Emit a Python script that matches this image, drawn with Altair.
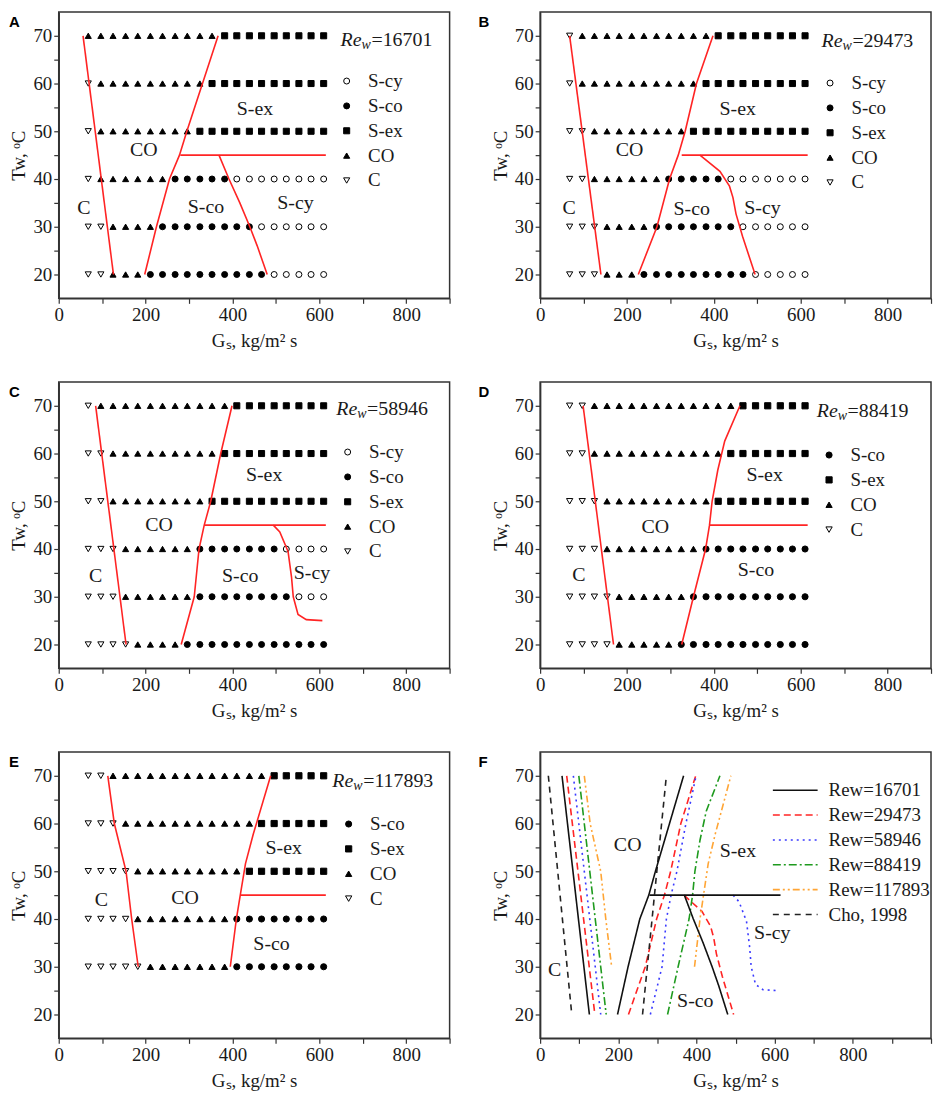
import altair as alt
import pandas as pd

SERIF = "Liberation Serif"
SANS = "Liberation Sans"
INK = "#1a1a1a"
RED = "#ff2424"

# ---------------- data ----------------
G_GRID = [68, 97, 125, 154, 182, 211, 239, 268, 296, 325, 353, 382, 410, 439, 467, 496, 524, 553, 581, 610]

# regime run-lengths along each row (from low Gs to high Gs)
A_RUNS = {
    70: [("CO", 11), ("S-ex", 9)],
    60: [("C", 1), ("CO", 9), ("S-ex", 10)],
    50: [("C", 1), ("CO", 8), ("S-ex", 11)],
    40: [("C", 1), ("CO", 6), ("S-co", 5), ("S-cy", 8)],
    30: [("C", 2), ("CO", 4), ("S-co", 8), ("S-cy", 6)],
    20: [("C", 2), ("CO", 3), ("S-co", 10), ("S-cy", 5)],
}
B_RUNS = {
    70: [("C", 1), ("CO", 11), ("S-ex", 8)],
    60: [("C", 1), ("CO", 10), ("S-ex", 9)],
    50: [("C", 2), ("CO", 8), ("S-ex", 10)],
    40: [("C", 2), ("CO", 6), ("S-co", 5), ("S-cy", 7)],
    30: [("C", 3), ("CO", 4), ("S-co", 7), ("S-cy", 6)],
    20: [("C", 3), ("CO", 3), ("S-co", 9), ("S-cy", 5)],
}
C_RUNS = {
    70: [("C", 1), ("CO", 11), ("S-ex", 8)],
    60: [("C", 2), ("CO", 9), ("S-ex", 9)],
    50: [("C", 2), ("CO", 8), ("S-ex", 10)],
    40: [("C", 3), ("CO", 6), ("S-co", 7), ("S-cy", 4)],
    30: [("C", 3), ("CO", 6), ("S-co", 8), ("S-cy", 3)],
    20: [("C", 4), ("CO", 4), ("S-co", 12)],
}
D_RUNS = {
    70: [("C", 2), ("CO", 12), ("S-ex", 6)],
    60: [("C", 2), ("CO", 11), ("S-ex", 7)],
    50: [("C", 3), ("CO", 9), ("S-ex", 8)],
    40: [("C", 3), ("CO", 8), ("S-co", 9)],
    30: [("C", 4), ("CO", 6), ("S-co", 10)],
    20: [("C", 4), ("CO", 5), ("S-co", 11)],
}
E_RUNS = {
    70: [("C", 2), ("CO", 13), ("S-ex", 5)],
    60: [("C", 3), ("CO", 11), ("S-ex", 6)],
    50: [("C", 4), ("CO", 9), ("S-ex", 7)],
    40: [("C", 4), ("CO", 8), ("S-co", 8)],
    30: [("C", 5), ("CO", 7), ("S-co", 8)],
}

# regime boundaries (Gs, Tw)
A_LEFT_G, A_LEFT_T = [56, 126], [70, 20]
A_MID_G, A_MID_T = [198, 225, 255, 278, 295, 331, 367], [20, 30, 40, 45, 50, 60, 70]
A_H45_G, A_H45_T = [280, 615], [45, 45]
A_CY_G, A_CY_T = [369, 392, 417, 440, 457, 480], [45, 40, 35, 30, 26, 20]

B_LEFT_G, B_LEFT_T = [68, 140], [70, 20]
B_MID_G, B_MID_T = [226, 269, 298, 318, 334, 360, 398], [20, 30, 40, 45, 50, 60, 70]
B_H45_G, B_H45_T = [326, 616], [45, 45]
B_CY_G, B_CY_T = [368, 414, 436, 444, 451, 466, 495], [45, 41.6, 38.5, 36.1, 32.7, 28, 20]

C_LEFT_G, C_LEFT_T = [85, 155], [70, 20]
C_MID_G, C_MID_T = [282, 312, 323, 335, 350, 373, 399], [20, 30, 40, 45, 50, 60, 70]
C_H45_G, C_H45_T = [335, 615], [45, 45]
C_CY_G, C_CY_T = [494, 509, 528, 536, 540, 551, 570, 607], [45, 43.6, 39.5, 34.1, 30, 26.3, 25.2, 25]

D_LEFT_G, D_LEFT_T = [99, 169], [70, 20]
D_MID_G, D_MID_T = [326, 353, 381, 390, 396, 409, 425, 460], [20, 30, 40, 45, 50, 56.5, 62.6, 70]
D_H45_G, D_H45_T = [390, 616], [45, 45]

E_LEFT_G, E_LEFT_T = [113, 128, 155, 168, 183], [70, 60, 50, 40, 30]
E_MID_G, E_MID_T = [395, 409, 418, 430, 448, 488], [30, 40, 45, 51.6, 57.8, 70]
E_H45_G, E_H45_T = [418, 615], [45, 45]

CHO_LEFT_G, CHO_LEFT_T = [21, 81], [70, 20]
CHO_MID_G, CHO_MID_T = [262, 323], [20, 70]

REGIMES = ["S-cy", "S-co", "S-ex", "CO", "C"]
SHAPES = {"S-cy": "circle", "S-co": "circle", "S-ex": "square", "CO": "triangle-up", "C": "triangle-down"}
FILLS = {"S-cy": "white", "S-co": "black", "S-ex": "black", "CO": "black", "C": "white"}
SIZES = {"S-cy": 36, "S-co": 38, "S-ex": 40, "CO": 62, "C": 56}

F_SERIES = ["Rew=29473", "Rew=58946", "Rew=88419", "Rew=117893", "Cho, 1998", "Rew=16701"]
F_LEGEND_ORDER = ["Rew=16701", "Rew=29473", "Rew=58946", "Rew=88419", "Rew=117893", "Cho, 1998"]
F_COLORS = ["#111111", "#ff2424", "#3a3aff", "#1e9a1e", "#ffa535", "#222222"]
F_DASHES = [[1, 0], [7, 4], [2, 4], [8, 3, 2, 3], [7, 3, 2, 3, 2, 3], [6, 5]]

# ---------------- helpers ----------------
W, H = 393, 288
YS = alt.Scale(domain=[15, 75], nice=False, zero=False)
Y_TICKS = [20, 25, 30, 35, 40, 45, 50, 55, 60, 65, 70]
X_TICKS = [0, 100, 200, 300, 400, 500, 600, 700, 800, 900]
XF_TICKS = [0, 100, 200, 300, 400, 500, 600, 700, 800, 900, 1000]

YAX = alt.Axis(title="Tw, \u1d52C", values=Y_TICKS, labelExpr="datum.value % 10 === 0 ? datum.label : ''",
               titlePadding=4)


def xaxis(ticks):
    return alt.Axis(title="G\u209b, kg/m\u00b2 s", values=ticks,
                    labelExpr="datum.value % 200 === 0 && datum.value <= 800 ? datum.label : ''",
                    titlePadding=7)


def points_df(runs):
    rows = []
    for t, rl in runs.items():
        i = 0
        for reg, n in rl:
            for _ in range(n):
                rows.append({"G": G_GRID[i], "T": t, "regime": reg})
                i += 1
    return pd.DataFrame(rows)


def seg_df(segs):
    rows = []
    for name, gs, ts in segs:
        for k, (g, t) in enumerate(zip(gs, ts)):
            rows.append({"seg": name, "ord": k, "G": g, "T": t})
    return pd.DataFrame(rows)


def letter_layer(letter, lx):
    return alt.Chart(pd.DataFrame({"lab": [letter]})).mark_text(
        font=SANS, fontWeight="bold", fontSize=15, align="left", baseline="middle", color="black"
    ).encode(x=alt.value(lx), y=alt.value(10), text="lab:N")


def labels_layer(lab, xs, xax):
    df = pd.DataFrame(lab, columns=["txt", "G", "T"])
    return alt.Chart(df).mark_text(font=SERIF, fontSize=20, color=INK, align="center", baseline="middle").encode(
        x=alt.X("G:Q", scale=xs, axis=xax), y=alt.Y("T:Q", scale=YS, axis=YAX), text="txt:N")


def rew_layers(num, pos, xs, xax):
    df = pd.DataFrame({"G": [pos[0]], "T": [pos[1]], "re": ["Re"], "sub": ["w"], "num": ["=" + num]})
    base = alt.Chart(df).encode(x=alt.X("G:Q", scale=xs, axis=xax), y=alt.Y("T:Q", scale=YS, axis=YAX))
    re = base.mark_text(align="left", baseline="middle", font=SERIF, fontSize=20, fontStyle="italic",
                        color=INK).encode(text="re:N")
    sub = base.mark_text(align="left", baseline="middle", font=SERIF, fontSize=14, fontStyle="italic",
                         dx=21, dy=5, color=INK).encode(text="sub:N")
    nm = base.mark_text(align="left", baseline="middle", font=SERIF, fontSize=20, dx=31,
                        color=INK).encode(text="num:N")
    return [re, sub, nm]


def panel(letter, lx, runs, segs, labels, num, rew_pos, leg_pos):
    xs = alt.Scale(domain=[0, 900], nice=False, zero=False)
    xax = xaxis(X_TICKS)
    pts = points_df(runs)
    present = [r for r in REGIMES if r in set(pts["regime"])]
    leg = alt.Legend(title=None, orient="none", legendX=leg_pos[0], legendY=leg_pos[1],
                     labelFont=SERIF, labelFontSize=19, labelColor=INK,
                     symbolStrokeWidth=1, rowPadding=5, labelOffset=12, padding=0)
    p = alt.Chart(pts).mark_point(filled=True, strokeWidth=1, opacity=1).encode(
        x=alt.X("G:Q", scale=xs, axis=xax),
        y=alt.Y("T:Q", scale=YS, axis=YAX),
        shape=alt.Shape("regime:N", scale=alt.Scale(domain=present, range=[SHAPES[r] for r in present]), legend=leg),
        fill=alt.Fill("regime:N", scale=alt.Scale(domain=present, range=[FILLS[r] for r in present]), legend=leg),
        stroke=alt.Stroke("regime:N", scale=alt.Scale(domain=present, range=["black" for r in present]), legend=leg),
        size=alt.Size("regime:N", scale=alt.Scale(domain=present, range=[SIZES[r] for r in present]), legend=leg),
    )
    ln = alt.Chart(seg_df(segs)).mark_line(color=RED, strokeWidth=1.6).encode(
        x=alt.X("G:Q", scale=xs, axis=xax), y=alt.Y("T:Q", scale=YS, axis=YAX),
        detail="seg:N", order="ord:Q")
    layers = [p, ln, labels_layer(labels, xs, xax)] + rew_layers(num, rew_pos, xs, xax) + [letter_layer(letter, lx)]
    return alt.layer(*layers).properties(width=W, height=H)


A_SEGS = [("l", A_LEFT_G, A_LEFT_T), ("m", A_MID_G, A_MID_T), ("h", A_H45_G, A_H45_T), ("c", A_CY_G, A_CY_T)]
B_SEGS = [("l", B_LEFT_G, B_LEFT_T), ("m", B_MID_G, B_MID_T), ("h", B_H45_G, B_H45_T), ("c", B_CY_G, B_CY_T)]
C_SEGS = [("l", C_LEFT_G, C_LEFT_T), ("m", C_MID_G, C_MID_T), ("h", C_H45_G, C_H45_T), ("c", C_CY_G, C_CY_T)]
D_SEGS = [("l", D_LEFT_G, D_LEFT_T), ("m", D_MID_G, D_MID_T), ("h", D_H45_G, D_H45_T)]
E_SEGS = [("l", E_LEFT_G, E_LEFT_T), ("m", E_MID_G, E_MID_T), ("h", E_H45_G, E_H45_T)]

A_LAB = [("S-ex", 452, 54.7), ("CO", 196, 46), ("S-co", 339, 34.2), ("S-cy", 545, 35), ("C", 58, 34)]
B_LAB = [("S-ex", 455, 54.7), ("CO", 206, 46), ("S-co", 349, 33.8), ("S-cy", 512, 34), ("C", 67, 34)]
C_LAB = [("S-ex", 473, 55.5), ("CO", 231, 45), ("S-co", 418, 34.3), ("S-cy", 583, 35), ("C", 85, 34.3)]
D_LAB = [("S-ex", 517, 55.5), ("CO", 265, 44.6), ("S-co", 497, 35.6), ("C", 89, 34.6)]
E_LAB = [("S-ex", 518, 54.8), ("CO", 291, 44.4), ("S-co", 490, 34.8), ("C", 98, 44)]
F_LAB = [("CO", 224, 55.6), ("S-ex", 506, 54.3), ("S-cy", 594, 37), ("S-co", 397, 22.8), ("C", 37, 29.3)]

LX_L, LX_R = -50, -62

pA = panel("A", LX_L, A_RUNS, A_SEGS, A_LAB, "16701", (649, 69.2), (280, 60))
pB = panel("B", LX_R, B_RUNS, B_SEGS, B_LAB, "29473", (648, 68.8), (282, 62))
pC = panel("C", LX_L, C_RUNS, C_SEGS, C_LAB, "58946", (639, 69.3), (281, 61))
pD = panel("D", LX_R, D_RUNS, D_SEGS, D_LAB, "88419", (637, 68.8), (281, 64))
pE = panel("E", LX_L, E_RUNS, E_SEGS, E_LAB, "117893", (630, 69.0), (282, 63))

# panel F: all boundaries compared
F_DATA = {
    "Rew=16701": [("l", A_LEFT_G, A_LEFT_T), ("m", A_MID_G, A_MID_T), ("h", A_H45_G, A_H45_T), ("c", A_CY_G, A_CY_T)],
    "Rew=29473": [("l", B_LEFT_G, B_LEFT_T), ("m", B_MID_G, B_MID_T), ("c", B_CY_G, B_CY_T)],
    "Rew=58946": [("l", C_LEFT_G, C_LEFT_T), ("m", C_MID_G, C_MID_T), ("c", C_CY_G, C_CY_T)],
    "Rew=88419": [("l", D_LEFT_G, D_LEFT_T), ("m", D_MID_G, D_MID_T)],
    "Rew=117893": [("l", E_LEFT_G, E_LEFT_T), ("m", E_MID_G, E_MID_T)],
    "Cho, 1998": [("l", CHO_LEFT_G, CHO_LEFT_T), ("m", CHO_MID_G, CHO_MID_T)],
}
frows = []
for s in F_SERIES:
    d = seg_df(F_DATA[s])
    d["series"] = s
    d["seg"] = s + "_" + d["seg"]
    frows.append(d)
fdf = pd.concat(frows, ignore_index=True)

xsF = alt.Scale(domain=[0, 1000], nice=False, zero=False)
xaxF = xaxis(XF_TICKS)
legF = alt.Legend(title=None, orient="none", legendX=247, legendY=29, labelFont=SERIF, labelFontSize=19,
                  labelColor=INK, symbolType="M-4.5,0H4.5", symbolSize=100, symbolStrokeWidth=1.6,
                  labelOffset=24, rowPadding=5, padding=0)
fl = alt.Chart(fdf).mark_line(strokeWidth=1.6).encode(
    x=alt.X("G:Q", scale=xsF, axis=xaxF), y=alt.Y("T:Q", scale=YS, axis=YAX),
    color=alt.Color("series:N", scale=alt.Scale(domain=F_LEGEND_ORDER, range=F_COLORS), legend=legF),
    strokeDash=alt.StrokeDash("series:N", scale=alt.Scale(domain=F_LEGEND_ORDER, range=F_DASHES), legend=legF),
    detail="seg:N", order="ord:Q")
pF = alt.layer(fl, labels_layer(F_LAB, xsF, xaxF), letter_layer("F", LX_R)).properties(width=W, height=H)

IND = dict(shape="independent", fill="independent", size="independent", color="independent",
           strokeDash="independent", stroke="independent")
row1 = alt.hconcat(pA, pB, spacing=26).resolve_scale(**IND)
row2 = alt.hconcat(pC, pD, spacing=26).resolve_scale(**IND)
row3 = alt.hconcat(pE, pF, spacing=26).resolve_scale(**IND)

chart = alt.vconcat(row1, row2, row3, spacing=30).resolve_scale(**IND).properties(
    padding={"left": 0, "top": 0, "right": 0, "bottom": 0}
).configure_view(stroke="#333333", strokeWidth=1.5).configure_axis(
    labelFont=SERIF, labelFontSize=19, labelColor=INK, titleFont=SERIF, titleFontSize=19,
    titleFontWeight="normal", titleColor=INK, tickColor="#333333", domainColor="#333333",
    tickSize=5, tickWidth=1.2, domainWidth=1.5, grid=False, labelPadding=2, labelFlush=False,
    labelOverlap=False
)

chart.save("out.html", embed_options={"renderer": "svg", "actions": False})
